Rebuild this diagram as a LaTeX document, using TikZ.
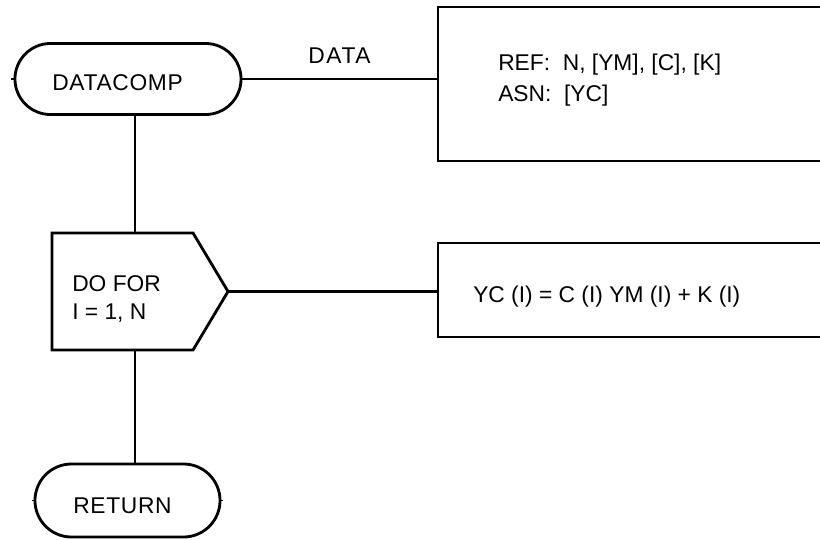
\documentclass[tikz,border=0pt]{standalone}
\usepackage{fontspec}
\setmainfont{Liberation Sans}
\newfontfamily\capsfont[LetterSpace=3]{Liberation Sans}
\newfontfamily\widecapsfont[LetterSpace=7]{Liberation Sans}
\usetikzlibrary{shapes.misc}

\tikzset{
  chart/.style={line width=2pt, line join=miter},
  link/.style={line width=1.7pt},
  terminal/.style={chart, draw, rounded rectangle, inner sep=0pt},
  procbox/.style={chart, draw, rectangle, inner sep=0pt},
  lbl/.style={font=\fontsize{16.2pt}{19.4pt}\selectfont, inner sep=0pt}
}

\begin{document}
\begin{tikzpicture}[x=0.025cm,y=-0.025cm]
  \useasboundingbox (0,0) rectangle (820,539);
  \clip (0,0) rectangle (820,539);
  % Entry and exit terminals
  \node[terminal, minimum width=5.65cm, minimum height=1.775cm] (datacomp) at (128,79) {};
  \node[lbl, anchor=base west] (datacomp-txt) at (52,90) {\capsfont DATACOMP};
  \node[terminal, minimum width=4.625cm, minimum height=1.825cm] (return) at (127.5,500.5) {};
  \node[lbl, anchor=base west] (return-txt) at (73,513) {\capsfont RETURN};
  % Loop block
  \node[minimum width=3.525cm, minimum height=2.925cm, outer sep=0pt] (loop) at (122.5,291.5) {};
  \path (loop.east) ++(35,0) coordinate (loop-tip);
  \draw[chart] (loop.north east) -- (loop.north west) -- (loop.south west)
    -- (loop.south east) -- (loop-tip) -- cycle;
  \node[lbl, anchor=base west, align=left] (loop-txt) at (72,319) {DO FOR\\I = 1, N};
  % Data and body boxes
  \node[procbox, minimum width=11.05cm, minimum height=3.85cm] (data) at (659,84) {};
  \node[lbl, anchor=base west, align=left] (data-txt) at (498,101)
    {REF:\ \ N, [YM], [C], [K]\\[0.09cm]ASN:\ \ [YC]};
  \node[procbox, minimum width=11.05cm, minimum height=2.35cm] (body) at (659,290) {};
  \node[lbl, anchor=base west] (body-txt) at (473,302) {YC (I) = C (I) YM (I) + K (I)};
  % Connectors
  \coordinate (spine) at (135,0);
  \draw[link] (datacomp.east) -- node[lbl, above=0.35cm] (data-lbl) {\widecapsfont DATA}
    (datacomp.east -| data.west);
  \draw[link] (datacomp.south -| spine) -- (loop.north -| spine);
  \draw[link] (loop.south -| spine) -- (return.north -| spine);
  \draw[link] (loop-tip) -- (loop-tip -| body.west);
  % Ticks
  \draw[line width=1pt] (datacomp.west) -- ++(-3,0);
  \draw[line width=1pt] (return.west) -- ++(-2,0);
  \draw[line width=1pt] (return.east) -- ++(2,0);
\end{tikzpicture}
\end{document}
